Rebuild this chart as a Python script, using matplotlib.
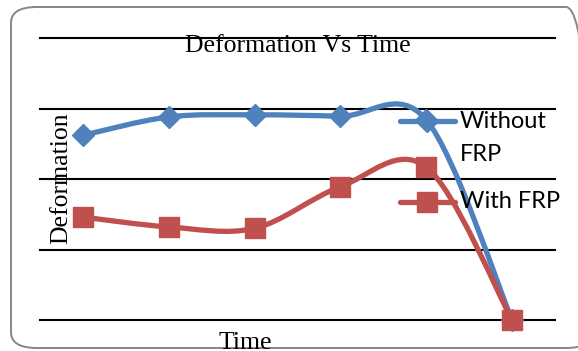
import matplotlib
matplotlib.use("Agg")
import matplotlib.pyplot as plt
from matplotlib.path import Path
from matplotlib.patches import PathPatch, FancyBboxPatch
from matplotlib.lines import Line2D

# ---- data ----
categories = [1, 2, 3, 4, 5, 6]
without_frp = [2.62, 2.88, 2.91, 2.89, 2.84, 0.0]
with_frp = [1.46, 1.32, 1.30, 1.89, 2.17, 0.0]
series_labels = ["Without\nFRP", "With FRP"]
title = "Deformation Vs Time"
xlabel = "Time"
ylabel = "Deformation"

BLUE = "#4F81BD"
RED = "#C0504D"
W, H = 578, 351

fig = plt.figure(figsize=(W / 100, H / 100), dpi=100)
ax = fig.add_axes([40 / W, 1 - 320 / H, (555 - 40) / W, (320 - 38) / H])
ax.set_xlim(0.5, 6.5)
ax.set_ylim(0, 4)
for s in ax.spines.values():
    s.set_visible(False)
ax.set_xticks([])
ax.set_yticks([0, 1, 2, 3, 4])
ax.tick_params(axis="y", length=0, labelleft=False)
ax.yaxis.grid(True, color="black", linewidth=1.5)
ax.set_axisbelow(True)
for gl in ax.get_ygridlines():
    gl.set_clip_on(False)


def smooth_path(xs, ys):
    verts = [(xs[0], ys[0])]
    codes = [Path.MOVETO]
    n = len(xs)
    for i in range(n - 1):
        i0 = max(i - 1, 0)
        i3 = min(i + 2, n - 1)
        c1 = (xs[i] + (xs[i + 1] - xs[i0]) / 6, ys[i] + (ys[i + 1] - ys[i0]) / 6)
        c2 = (xs[i + 1] - (xs[i3] - xs[i]) / 6, ys[i + 1] - (ys[i3] - ys[i]) / 6)
        verts += [c1, c2, (xs[i + 1], ys[i + 1])]
        codes += [Path.CURVE4] * 3
    return Path(verts, codes)


for vals, color, marker, ms in [(without_frp, BLUE, "D", 11), (with_frp, RED, "s", 14)]:
    ax.add_patch(PathPatch(smooth_path(categories, vals), fill=False,
                           edgecolor=color, linewidth=3.8, capstyle="round",
                           joinstyle="round", zorder=3, clip_on=False))
    ax.plot(categories, vals, linestyle="none", marker=marker, markersize=ms,
            color=color, zorder=4, clip_on=False)

px = lambda x, y: (x / W, 1 - y / H)

fig.text(*px(298, 46), title, ha="center", va="center",
         family="Liberation Serif", fontsize=18.5)
fig.text(*px(61, 178), ylabel, ha="center", va="center", rotation=90,
         family="Liberation Serif", fontsize=18.5)
fig.text(*px(245, 332), xlabel, ha="center", va="top",
         family="Liberation Serif", fontsize=18.5)

# legend (manual)
for (ly, color, marker, ms) in [(121, BLUE, "D", 11), (202, RED, "s", 14)]:
    fig.add_artist(Line2D([400 / W, 455 / W], [1 - ly / H] * 2, color=color,
                          linewidth=3.8, solid_capstyle="round"))
    fig.add_artist(Line2D([427 / W], [1 - ly / H], color=color, marker=marker,
                          markersize=ms, linestyle="none"))
fig.text(*px(460, 121), "Without", ha="left", va="center", family="Lato", fontsize=17)
fig.text(*px(460, 154), "FRP", ha="left", va="center", family="Lato", fontsize=17)
fig.text(*px(460, 202), "With FRP", ha="left", va="center", family="Lato", fontsize=17)

# chart border
fig.add_artist(FancyBboxPatch((11 / W, 1 - 348 / H), (592 - 11) / W, (348 - 7) / H,
                              boxstyle="round,pad=0,rounding_size=0.045",
                              transform=fig.transFigure, fill=False,
                              edgecolor="#868686", linewidth=1.4))

fig.savefig("out.png", dpi=100)
